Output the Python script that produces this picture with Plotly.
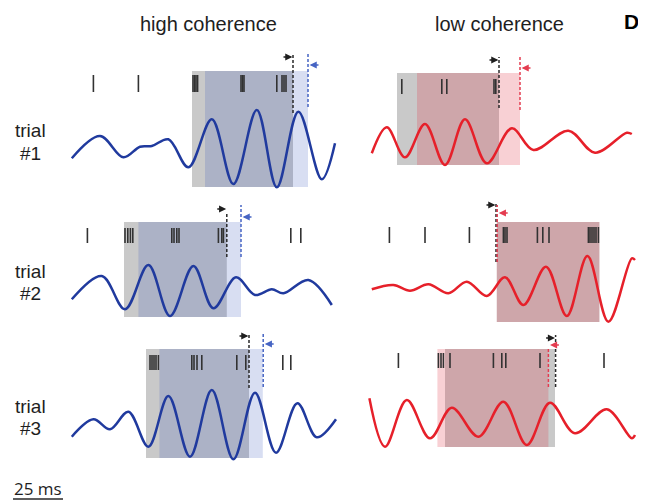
import plotly.graph_objects as go

# ---------------- data (time in ms, amplitude in arbitrary units) ----------------
conditions = ["high coherence", "low coherence"]
trial_words = ["trial", "trial", "trial"]
trial_numbers = ["#1", "#2", "#3"]
panel_ids = ["h1", "l1", "h2", "l2", "h3", "l3"]

# LFP waveform samples (extrema)
wave_t_h1 = [5.9, 20, 31.7, 40, 45.9, 54.2, 64.2, 75.9, 86.7, 98.4, 108.4, 119.2, 130.9, 137.5]
wave_v_h1 = [-8.3, 14, -7.3, 3.3, 4, 10.7, -17.3, 30.7, -34, 40, -37.3, 38.3, -29.3, 6.7]
wave_t_l1 = [5.9, 13.4, 22.5, 32.5, 42.5, 52.5, 63.4, 75.9, 86.7, 104.2, 117.5, 133.4, 135.9]
wave_v_l1 = [-3.3, 22.7, -7.3, 26, -15, 30.7, -13.3, 21.7, 0, 19.3, -2.7, 17.3, 16]
wave_t_h2 = [5.9, 20.9, 32.5, 44.2, 55, 66.7, 76.7, 88, 97.5, 105.9, 111.7, 124.2, 135.9]
wave_v_h2 = [-9.3, 14, -19.3, 25, -26, 24, -18.3, 12.7, -5, 0.7, -3.3, 10, -15]
wave_t_l2 = [5.9, 16.7, 25, 34.2, 44.2, 53.4, 63.4, 72.5, 81.7, 93, 103.4, 113.7, 124.2, 135.9, 137.5]
wave_v_l2 = [0.7, 5, -0.7, 5.7, -3.3, 8.3, -6, 12.7, -15, 23.3, -26, 34, -31.7, 31.7, 30]
wave_t_h3 = [5.9, 16.7, 25, 34.2, 44.2, 54.2, 65, 75.9, 86.7, 97.5, 108, 118.7, 128.4, 138]
wave_v_h3 = [-11.7, 5.7, -4.3, 13.3, -21.7, 29, -31.7, 35, -34.3, 32.3, -27.7, 21.7, -12.3, 5.7]
wave_t_l3 = [4.7, 12.5, 23.4, 35, 45.9, 59.2, 71.7, 83.4, 95, 107.5, 123.4, 135.9, 137.5]
wave_v_l3 = [26.7, -21.7, 25, -13.3, 17.3, -11.7, 23.3, -20, 22.3, -8.3, 15.7, -13.3, -10]

# spike times (ms)
spikes_h1 = [16.7, 39.2, 66.5, 67.3, 68, 68.8, 90.5, 91.3, 92, 108.4, 111, 112, 113]
spikes_l1 = [20.9, 40.9, 43.4, 67, 67.9]
spikes_h2 = [13.7, 32.5, 33.9, 35.2, 36.4, 55.9, 57, 58.4, 59.5, 79.2, 80.9, 81.7, 115.4, 120.4]
spikes_l2 = [14.7, 32.5, 54.7, 71.7, 72.5, 73.5, 88.7, 91.4, 94.5,
             114.2, 115, 116, 117, 118, 119.2]
spikes_h3 = [45, 46, 47, 48, 49.2, 65.9, 67, 68.5, 70.9, 88.4, 92.9, 111.4, 115.4]
spikes_l3 = [19.2, 39.2, 40.5, 41.7, 45, 66.7, 70.9, 72.9, 90, 122]

# spike raster extent [bottom, top]
spike_rows = [[58, 75], [56, 71], [47, 62], [47, 63], [55, 70], [57, 72]]

# analysis windows (ms): grey = spike window, coloured = shifted window
grey_windows = [[66, 116.5], [18.5, 69.5], [32, 83.4], [68.4, 119.7], [43, 94.5], [42.5, 97.5]]
color_windows = [[72.5, 124], [28.5, 80], [39.2, 90.5], [68.4, 119.7], [49.7, 101.4], [38.7, 94.2]]
window_y = [[-37, 79], [-15, 77], [-27, 68], [-32, 68], [-33, 76], [-22, 76]]

# dashed markers: times (ms) and extents [bottom, top]
black_line_t = [116.5, 69.5, 83.4, 68.0, 94.5, 97.8]
color_line_t = [124.0, 80.0, 90.5, 68.6, 101.6, 94.2]
black_dash_y = [[37, 96], [42, 93], [33, 77], [28, 88], [37, 90], [38, 90]]
color_dash_y = [[43, 97], [40, 95], [33, 85], [28, 85], [38, 92], [38, 78]]
# arrow heights
black_arrow_y = [93, 90, 81, 85, 89, 87]
color_arrow_y = [85, 82, 73, 77, 81, 80]

scale_bar_ms = 25
x_range = [0, 140]

waves = {
    "h1": (wave_t_h1, wave_v_h1), "l1": (wave_t_l1, wave_v_l1),
    "h2": (wave_t_h2, wave_v_h2), "l2": (wave_t_l2, wave_v_l2),
    "h3": (wave_t_h3, wave_v_h3), "l3": (wave_t_l3, wave_v_l3),
}
spikes = {"h1": spikes_h1, "l1": spikes_l1, "h2": spikes_h2,
          "l2": spikes_l2, "h3": spikes_h3, "l3": spikes_l3}

# ---------------- styling ----------------
PAGE_OFF = 8                     # default body margin of the html page
W, H = 646 - PAGE_OFF, 501 - PAGE_OFF


def px_x(p):
    return (p - PAGE_OFF) / W


def px_y(p):
    return 1 - (p - PAGE_OFF) / H


col_px = [(60, 340), (360, 640)]
row_px = [(40, 200), (200, 330), (330, 470)]
row_yrange = [[-50, 110], [-40, 90], [-45, 95]]

BLUE = "rgb(32,58,158)"
BLUE_L = "rgb(70,100,195)"
RED = "rgb(230,32,42)"
RED_L = "rgb(228,60,80)"
GREY_FILL = "rgba(0,0,0,0.21)"
BLUE_FILL = "rgba(60,90,190,0.20)"
RED_FILL = "rgba(225,40,60,0.22)"
SPIKE = "rgb(50,50,50)"
FONT = "Liberation Sans, Arial, sans-serif"
TXT = "rgb(30,30,30)"

fig = go.Figure()
layout = dict(width=W, height=H, margin=dict(l=0, r=0, t=0, b=0),
              paper_bgcolor="white", plot_bgcolor="rgba(0,0,0,0)",
              showlegend=False, shapes=[], annotations=[])

for i, pid in enumerate(panel_ids):
    r, c = i // 2, i % 2
    n = i + 1
    xa = "x" if n == 1 else f"x{n}"
    ya = "y" if n == 1 else f"y{n}"
    x0p, x1p = col_px[c]
    y0p, y1p = row_px[r]
    layout["xaxis" if n == 1 else f"xaxis{n}"] = dict(
        domain=[px_x(x0p), px_x(x1p)], range=x_range, visible=False, anchor=ya)
    layout["yaxis" if n == 1 else f"yaxis{n}"] = dict(
        domain=[px_y(y1p), px_y(y0p)], range=row_yrange[r], visible=False, anchor=xa)

    high = c == 0
    wcol = BLUE if high else RED
    lcol = BLUE_L if high else RED_L
    cfill = BLUE_FILL if high else RED_FILL

    # windows
    wy0, wy1 = window_y[i]
    for (a, b), fill in ((grey_windows[i], GREY_FILL), (color_windows[i], cfill)):
        layout["shapes"].append(dict(type="rect", xref=xa, yref=ya, x0=a, x1=b, y0=wy0, y1=wy1,
                                     fillcolor=fill, line=dict(width=0), layer="below"))

    # spikes
    sx, sy = [], []
    sb, st = spike_rows[i]
    for t in spikes[pid]:
        sx += [t, t, None]
        sy += [sb, st, None]
    fig.add_trace(go.Scatter(x=sx, y=sy, mode="lines", xaxis=xa, yaxis=ya,
                             line=dict(color=SPIKE, width=1.6), hoverinfo="skip"))

    # dashed markers
    gx = black_line_t[i]
    cx = color_line_t[i]
    fig.add_trace(go.Scatter(x=[gx, gx], y=black_dash_y[i], mode="lines", xaxis=xa, yaxis=ya,
                             line=dict(color="rgb(40,40,40)", width=1.5, dash="3px,2px"),
                             hoverinfo="skip"))
    fig.add_trace(go.Scatter(x=[cx, cx], y=color_dash_y[i], mode="lines", xaxis=xa, yaxis=ya,
                             line=dict(color=lcol, width=1.5, dash="3px,2px"), hoverinfo="skip"))

    # waveform
    t, v = waves[pid]
    fig.add_trace(go.Scatter(x=t, y=v, mode="lines", xaxis=xa, yaxis=ya,
                             line=dict(color=wcol, width=2.5, shape="spline", smoothing=1.0),
                             hoverinfo="skip"))

    # arrows
    layout["annotations"].append(dict(
        x=gx - 0.3, y=black_arrow_y[i], ax=gx - 5.5, ay=black_arrow_y[i],
        xref=xa, yref=ya, axref=xa, ayref=ya, text="", showarrow=True,
        arrowhead=2, arrowsize=1.1, arrowwidth=1.3, arrowcolor="rgb(30,30,30)"))
    layout["annotations"].append(dict(
        x=cx + 0.8, y=color_arrow_y[i], ax=cx + 6.0, ay=color_arrow_y[i],
        xref=xa, yref=ya, axref=xa, ayref=ya, text="", showarrow=True,
        arrowhead=2, arrowsize=1.1, arrowwidth=1.3, arrowcolor=lcol))

# column titles
for c, name in enumerate(conditions):
    layout["annotations"].append(dict(
        x=px_x(208 if c == 0 else 499), y=px_y(24), xref="paper", yref="paper", text=name,
        showarrow=False, font=dict(family=FONT, size=20, color=TXT),
        xanchor="center", yanchor="middle"))
layout["annotations"].append(dict(
    x=px_x(631), y=px_y(22), xref="paper", yref="paper", text="<b>D</b>", showarrow=False,
    font=dict(family=FONT, size=21, color="black"), xanchor="center", yanchor="middle"))

# trial labels
for r in range(3):
    base = [131, 271, 406][r]
    layout["annotations"].append(dict(
        x=px_x(30), y=px_y(base), xref="paper", yref="paper", text=trial_words[r],
        showarrow=False, font=dict(family=FONT, size=19, color=TXT),
        xanchor="center", yanchor="middle"))
    layout["annotations"].append(dict(
        x=px_x(30), y=px_y(base + 22), xref="paper", yref="paper", text=trial_numbers[r],
        showarrow=False, font=dict(family=FONT, size=19, color=TXT),
        xanchor="center", yanchor="middle"))

# scale bar (length from axis scale)
dom_w = px_x(col_px[0][1]) - px_x(col_px[0][0])
bar_len = scale_bar_ms / (x_range[1] - x_range[0]) * dom_w
bx0 = px_x(13)
layout["shapes"].append(dict(type="line", xref="paper", yref="paper",
                             x0=bx0, x1=bx0 + bar_len, y0=px_y(499), y1=px_y(499),
                             line=dict(color="rgb(40,40,40)", width=1.3)))
layout["annotations"].append(dict(
    x=bx0 + bar_len / 2, y=px_y(488), xref="paper", yref="paper", text=f"{scale_bar_ms} ms",
    showarrow=False, font=dict(family="Open Sans, sans-serif", size=17, color=TXT),
    xanchor="center", yanchor="middle"))

fig.update_layout(**layout)
fig.write_html("out.html")
